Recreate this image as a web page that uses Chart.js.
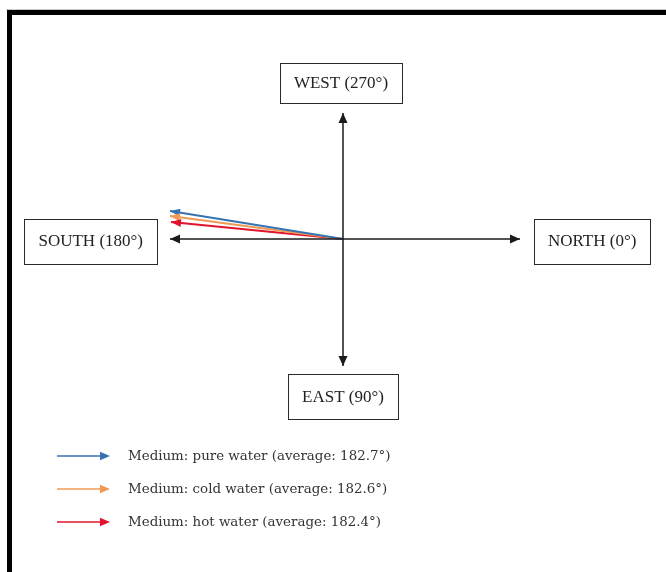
<!DOCTYPE html>
<html>
<head>
<meta charset="utf-8">
<script src="https://cdn.jsdelivr.net/npm/chart.js@4"></script>
<style>
  html, body { margin: 0; padding: 0; background: #fff; }
  #wrap { width: 666px; height: 572px; position: relative; }
</style>
</head>
<body>
<div id="wrap"><canvas id="compass"></canvas></div>
<script>
// compass directions and where each axis arrow ends (chart units, centre = 0,0)
const directionLabels = ['NORTH (0°)', 'EAST (90°)', 'SOUTH (180°)', 'WEST (270°)'];
const axisTipX = [177, 0, -173, 0];
const axisTipY = [0, -127, 0, 126];

// measured refraction direction per medium
const mediumNames = ['pure water', 'cold water', 'hot water'];
const mediumAverages = [182.7, 182.6, 182.4];
const arrowTipX = [-173, -173, -172];
const arrowTipY = [28, 23, 17];

const mediumColors = ['#3673b0', '#f09a55', '#e3132d'];
const axisColor = '#1a1a1a';

function drawHead(c, from, to, color, len, half) {
  const ang = Math.atan2(to.y - from.y, to.x - from.x);
  c.save();
  c.fillStyle = color;
  c.translate(to.x, to.y);
  c.rotate(ang);
  c.beginPath();
  c.moveTo(0, 0);
  c.lineTo(-len, -half);
  c.lineTo(-len, half);
  c.closePath();
  c.fill();
  c.restore();
}

const datasets = [];
directionLabels.forEach((label, i) => {
  datasets.push({
    label,
    data: [{ x: 0, y: 0 }, { x: axisTipX[i], y: axisTipY[i] }],
    borderColor: axisColor,
    borderWidth: 1.5,
    kind: 'axis'
  });
});
mediumNames.forEach((name, i) => {
  datasets.push({
    label: 'Medium: ' + name,
    data: [{ x: 0, y: 0 }, { x: arrowTipX[i], y: arrowTipY[i] }],
    borderColor: mediumColors[i],
    borderWidth: 1.8,
    kind: 'medium'
  });
});

const framePlugin = {
  id: 'frame',
  beforeDraw(chart) {
    const c = chart.ctx;
    c.save();
    c.fillStyle = '#fff';
    c.fillRect(0, 0, chart.width, chart.height);
    c.fillStyle = '#c8c8c8';
    c.fillRect(6, 9, chart.width, 1);
    c.fillStyle = '#000';
    c.fillRect(7, 10, chart.width, 5);
    c.fillRect(7, 10, 5, chart.height);
    c.restore();
  }
};

const arrowPlugin = {
  id: 'arrowHeads',
  afterDatasetsDraw(chart) {
    const c = chart.ctx;
    chart.data.datasets.forEach((ds, i) => {
      const pts = chart.getDatasetMeta(i).data;
      if (ds.kind === 'axis') drawHead(c, pts[0], pts[1], axisColor, 10, 4.5);
      else drawHead(c, pts[0], pts[1], ds.borderColor, 10, 4);
    });
  }
};

const boxPlugin = {
  id: 'directionBoxes',
  afterDraw(chart) {
    const c = chart.ctx;
    const xs = chart.scales.x, ys = chart.scales.y;
    c.save();
    c.font = '17px "Liberation Serif", "Times New Roman", serif';
    c.textAlign = 'center';
    c.textBaseline = 'middle';
    directionLabels.forEach((label, i) => {
      const tx = xs.getPixelForValue(axisTipX[i]);
      const ty = ys.getPixelForValue(axisTipY[i]);
      const w = c.measureText(label).width + 28;
      const h = i === 3 ? 40 : 45;
      let left, top;
      if (i === 0) { left = tx + 14; top = ty - h / 2 + 2; }
      else if (i === 2) { left = tx - 13 - w; top = ty - h / 2 + 2; }
      else if (i === 3) { left = tx - w / 2 - 2; top = ty - 10 - h; }
      else { left = tx - w / 2; top = ty + 8; }
      c.fillStyle = '#fff';
      c.fillRect(left, top, w, h);
      c.strokeStyle = '#2a2a2a';
      c.lineWidth = 1;
      c.strokeRect(Math.round(left) + 0.5, Math.round(top) + 0.5, Math.round(w), Math.round(h));
      c.fillStyle = '#222';
      c.fillText(label, left + w / 2, top + h / 2 + 1);
    });
    c.restore();
  }
};

const legendPlugin = {
  id: 'arrowLegend',
  afterDraw(chart) {
    const c = chart.ctx;
    c.save();
    c.font = '13.4px "DejaVu Serif", serif';
    c.textBaseline = 'middle';
    c.textAlign = 'left';
    mediumNames.forEach((name, i) => {
      const y = 456 + i * 33;
      c.strokeStyle = mediumColors[i];
      c.lineWidth = 1.6;
      c.beginPath();
      c.moveTo(57, y);
      c.lineTo(104, y);
      c.stroke();
      drawHead(c, { x: 57, y }, { x: 110, y }, mediumColors[i], 10, 4.2);
      c.fillStyle = '#333';
      c.fillText('Medium: ' + name + ' (average: ' + mediumAverages[i].toFixed(1) + '°)', 128, y + 1);
    });
    c.restore();
  }
};

new Chart(document.getElementById('compass'), {
  type: 'scatter',
  data: { datasets },
  options: {
    responsive: true,
    maintainAspectRatio: false,
    animation: false,
    showLine: true,
    layout: { padding: 0 },
    elements: { point: { radius: 0, hoverRadius: 0 }, line: { tension: 0 } },
    scales: {
      x: { type: 'linear', min: -343, max: 323, display: false },
      y: { type: 'linear', min: -333, max: 239, display: false }
    },
    plugins: { legend: { display: false }, tooltip: { enabled: false } }
  },
  plugins: [framePlugin, arrowPlugin, boxPlugin, legendPlugin]
});
</script>
</body>
</html>
